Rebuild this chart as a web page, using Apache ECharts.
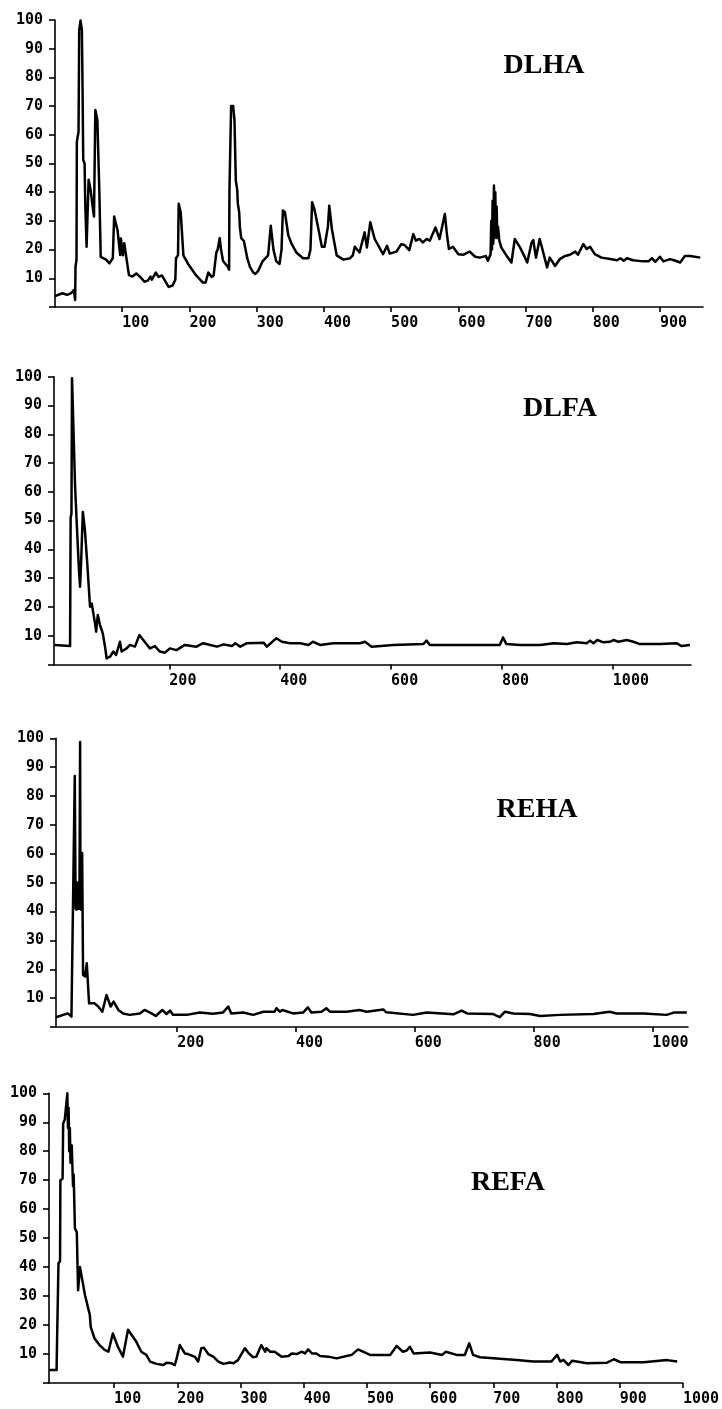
<!DOCTYPE html>
<html><head><meta charset="utf-8">
<script src="https://cdn.jsdelivr.net/npm/echarts@6/dist/echarts.min.js"></script>
<style>html,body{margin:0;padding:0;background:#fff}#c{width:722px;height:1409px}</style>
</head><body><div id="c"></div>
<script>
// ---- data ----
const titles = ['DLHA', 'DLFA', 'REHA', 'REFA'];
const xTicksDLHA = [100, 200, 300, 400, 500, 600, 700, 800, 900];
const xTicksDLFA = [200, 400, 600, 800, 1000];
const xTicksREHA = [200, 400, 600, 800, 1000];
const xTicksREFA = [100, 200, 300, 400, 500, 600, 700, 800, 900, 1000];

const dlha = [[0,3.8],[11,4.8],[18,4.2],[24,4.8],[28,5.9],[30,2.4],[30.5,14],[32,16.4],[32.5,57.6],[35,61],[36,96.5],[38,99.8],[40,96.5],[41,76],[42,51.2],[44,50],[45,36.1],[46,36],[47,21],[50,44.3],[53,40.8],[56,35],[58,31.5],[60,68.6],[63,65.2],[66,40],[68,17.5],[76,16.5],[81,15.2],[86,17],[88,31.5],[93,26.8],[97,18.1],[98,23.9],[101,18],[103,22.2],[105,19],[110,11.1],[115,10.6],[121,11.7],[128,10.2],[133,8.8],[138,9.2],[142,10.6],[144,9.5],[150,12],[154,10.5],[159,11],[164,9],[169,7],[175,7.5],[179,9.5],[180,17],[183,18],[184,36],[187,33],[191,18],[198,15],[210,11],[220,8.5],[224,8.5],[228,12],[233,10.5],[236,11],[240,19],[242,20],[245,24],[247,20],[250,16],[257,14],[259,13],[259.5,40],[261,40],[262,70],[265,70],[267,65],[269,44],[271,41],[272,36],[274,33],[275,28],[277,24],[281,23],[286,17],[290,14],[295,12],[298,11.5],[302,12.5],[309,16],[317,18],[321,28.3],[325,20],[329,16],[334,15],[337,20],[339,33.6],[342,33],[347,25],[352,22],[359,19],[369,17],[377,17],[380,20],[382.5,36.5],[386,34],[392,27],[397,21],[401,21],[406,28],[408,35.3],[412,27],[419,18],[429,16.5],[439,17],[443,18],[446,21],[453,19],[460.6,26],[464,20.7],[469,29.5],[475.6,23.7],[488,18.4],[494,21.3],[498,18.6],[508,19.3],[515,21.9],[520,21.6],[527,19.8],[533,25.4],[537,23.1],[542,23.7],[547,22.5],[553,23.7],[557.5,23.1],[566,27.7],[572,23.7],[580,32.4],[583,25.4],[586,20.2],[592,21],[600,18.4],[607,18.2],[617,19.3],[625,17.5],[632,17.2],[641,17.8],[644,16.1],[648,18.4],[649,30],[650,20],[651,37],[652,22],[653,42.3],[654,24],[655,40],[656,25],[657,35],[658,24],[659,28],[661,23.1],[664,20.7],[672,17.8],[679,15.5],[684,23.7],[692,20.7],[698,17.8],[702.5,15.5],[709,22.5],[711.5,23.3],[715.5,17.2],[721,23.7],[725,20.2],[732,13.8],[736,17.2],[744,14.3],[751,16.7],[759,17.8],[766,18.2],[774,19.3],[778,18.2],[786,21.9],[791,20.2],[796,21],[803,18.4],[813,17.2],[826,16.7],[836,16.3],[841,17],[846,16.1],[851,17],[860,16.3],[875,15.9],[883,15.9],[888,17],[893,15.7],[900,17.5],[905,15.9],[915,16.7],[923,16.1],[930,15.5],[937,17.8],[945,17.8],[960,17.2]];

const dlfa = [[-7,6.8],[21,6.4],[22,51],[23.5,52.5],[24.5,99.5],[30,62],[34,45],[37,33],[39,27],[41,36],[44,53],[47.5,47.3],[52,35.1],[57,20.1],[60,21.2],[66,14.3],[68,11.4],[71,17.2],[75,13.7],[80,10.8],[84,6.2],[87,2.1],[93,2.7],[99,4.5],[104,3.3],[111,7.9],[114,4.5],[123,5.6],[129,6.8],[138,6.2],[146,10.2],[153,8.5],[165,5.6],[174,6.4],[183,4.5],[192,4.1],[201,5.6],[213,5],[228,6.8],[249,6.2],[261,7.4],[274,6.8],[286,6.2],[298,7],[313,6.4],[319,7.4],[328,6.2],[340,7.4],[370,7.6],[376,6.2],[393,9.1],[403,7.9],[418,7.4],[436,7.4],[451,6.8],[459,7.9],[472,6.8],[496,7.4],[544,7.4],[553,7.9],[565,6.2],[604,6.8],[658,7.1],[664,8.3],[670,6.8],[724,6.8],[796,6.8],[802,9.4],[808,7.1],[833,6.8],[869,6.8],[893,7.4],[917,7.1],[935,7.7],[953,7.4],[959,8.3],[965,7.4],[972,8.5],[983,7.7],[995,7.9],[1001,8.5],[1010,7.9],[1025,8.5],[1037,7.9],[1049,7.1],[1085,7.1],[1115,7.4],[1124,6.4],[1139,6.8]];

const reha = [[-4,3.4],[16,4.7],[22,3.6],[27.6,86.9],[29,41],[29.8,50],[30.4,40.6],[31,50],[31.6,41],[32.2,50],[32.8,41],[33.4,50],[34,41],[34.6,49],[35.4,41],[36.6,98.7],[37.2,41],[37.8,50],[38.3,40.6],[39,52],[40,60.3],[41.6,18],[45,17.5],[47.8,22.1],[50,22.7],[51.7,8.2],[61,8.2],[67,7.1],[74,5.3],[81,11.1],[88,7.1],[93,8.8],[101,5.9],[109,4.7],[120,4.2],[137,4.7],[145,5.9],[157,4.7],[164,3.8],[175,5.9],[182,4.5],[188,5.7],[193,4.2],[216,4.2],[238,5],[260,4.6],[277,5],[286,7.1],[291,4.7],[311,5],[328,4.2],[345,5.3],[364,5.3],[367,6.5],[373,5.3],[377,5.9],[395,4.7],[412,5],[420,6.8],[426,5],[443,5.3],[451,6.5],[457,5.3],[485,5.3],[507,5.9],[519,5.3],[547,6.1],[552,5.1],[597,4.2],[620,5],[665,4.4],[679,5.7],[688,4.7],[732,4.5],[743,3.4],[752,5.3],[766,4.7],[794,4.5],[811,3.8],[844,4.2],[901,4.5],[928,5.3],[940,4.7],[985,4.7],[1024,4.2],[1036,5],[1058,5]];

const refa = [[-2,4.5],[9,4.5],[9.5,11.4],[11.5,12],[12,41.3],[14.5,42],[15,70],[18.5,70.5],[19.4,89.6],[22,91],[26,100],[27,88],[28,95],[29,80],[30,88],[31,76],[33,82],[35,68],[36,72],[38,53.4],[41,52],[43,32],[46,40],[48,39.6],[54,30.3],[61.6,23.5],[63,19.4],[69,15.4],[77,13.1],[85,11.4],[91,10.8],[98,17.1],[106,12.5],[114,9.1],[122,18.4],[125,18],[135,14.3],[143,10.8],[151,9.7],[157,7.4],[167,6.6],[178,6.2],[183,7],[191,6.8],[196,6.2],[199,8.5],[204,13.1],[212,10.2],[217,10],[220,10.5],[228,9],[233,7.4],[238,12],[242,12.2],[249,10],[257,9.1],[265,7.4],[273,6.6],[283,7.1],[289,6.8],[296,7.9],[307,12],[312,10.5],[320,8.9],[325,9.1],[333,13.1],[339,10.8],[341,12],[347,10.8],[354,10.8],[365,9.1],[376,9.3],[381,10.2],[389,10],[397,10.8],[402,10.2],[407,11.6],[413,10.2],[420,10.2],[426,9.3],[439,9.1],[452,8.5],[468,9.3],[476,9.7],[486,11.6],[489,11.6],[505,9.7],[537,9.7],[547,12.8],[557,10.8],[563,11.2],[568,12.5],[574,10.2],[600,10.5],[619,9.7],[625,10.8],[642,9.7],[655,9.7],[662,13.7],[668,9.7],[679,8.9],[737,7.9],[763,7.4],[792,7.4],[801,9.7],[806,7.4],[811,8],[819,6.2],[825,7.7],[848,6.8],[880,7],[891,8.2],[901,7.2],[938,7.2],[975,7.9],[991,7.4]];

const seriesData = [dlha, dlfa, reha, refa];
const xTickSets = [xTicksDLHA, xTicksDLFA, xTicksREHA, xTicksREFA];

// ---- layout / style ----
const panels = [
  {left: 55, top: 20, width: 648, height: 287, xmin: 0, xmax: 964, tx: 544, ty: 67},
  {left: 54, top: 376.7, width: 637, height: 287.8, xmin: -8, xmax: 1141, tx: 560, ty: 410},
  {left: 56, top: 738.3, width: 632, height: 288.7, xmin: -4, xmax: 1060, tx: 537, ty: 811},
  {left: 49, top: 1093.3, width: 634, height: 289.7, xmin: -3, xmax: 1000, tx: 508, ty: 1184}
];
const labelFont = {fontFamily: 'DejaVu Sans Mono', fontWeight: 'bold', fontSize: 15, color: '#000'};
const axisLineStyle = {color: '#000', width: 1.6};

const option = {
  backgroundColor: '#fff',
  animation: false,
  title: panels.map((p, i) => ({
    text: titles[i], left: p.tx, top: p.ty - 15, textAlign: 'center', padding: 0,
    textStyle: {fontFamily: 'Liberation Serif', fontWeight: 'bold', fontSize: 28, color: '#000'}
  })),
  grid: panels.map(p => ({left: p.left, top: p.top, width: p.width, height: p.height, containLabel: false})),
  xAxis: panels.map((p, i) => ({
    type: 'value', gridIndex: i, min: p.xmin, max: p.xmax,
    axisLine: {show: true, onZero: false, lineStyle: axisLineStyle},
    axisTick: {show: true, length: 5, customValues: xTickSets[i], lineStyle: axisLineStyle},
    axisLabel: Object.assign({customValues: xTickSets[i], align: 'left', margin: 9, formatter: v => String(v)}, labelFont),
    splitLine: {show: false}
  })),
  yAxis: panels.map((p, i) => ({
    type: 'value', gridIndex: i, min: 0, max: 100, interval: 10,
    axisLine: {show: true, onZero: false, lineStyle: axisLineStyle},
    axisTick: {show: true, length: 6, lineStyle: axisLineStyle},
    axisLabel: Object.assign({margin: 12, formatter: v => v === 0 ? '' : String(v)}, labelFont),
    splitLine: {show: false}
  })),
  series: seriesData.map((d, i) => ({
    type: 'line', xAxisIndex: i, yAxisIndex: i, data: d,
    symbol: 'none', showSymbol: false, smooth: false,
    lineStyle: {color: '#000', width: 2.5, join: 'round'}
  }))
};
const chart = echarts.init(document.getElementById('c'), null, {renderer: 'canvas'});
chart.setOption(option);
</script></body></html>
